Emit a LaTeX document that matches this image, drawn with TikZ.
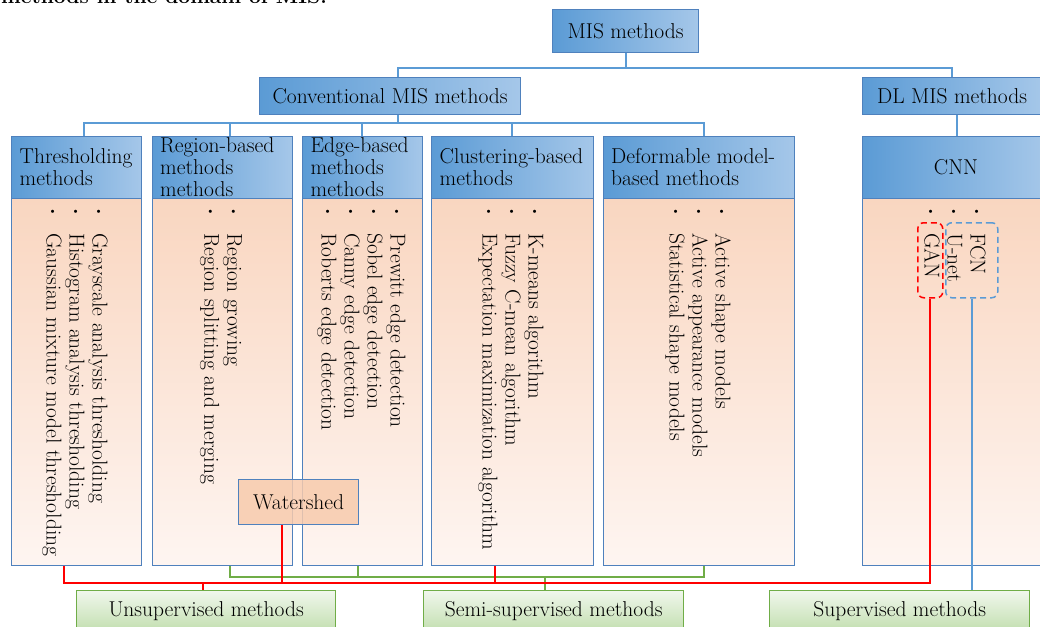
\documentclass[tikz,border=0pt]{standalone}
\usepackage{fontspec}
\setmainfont{Latin Modern Roman}
\definecolor{hdrL}{HTML}{5B9BD5}
\definecolor{hdrR}{HTML}{A5C7E9}
\definecolor{bord}{HTML}{4F81BD}
\definecolor{bodT}{HTML}{F9D6C0}
\definecolor{bodM}{HTML}{F5C4A2}
\definecolor{bodB}{HTML}{FEF5F1}
\definecolor{lnB}{HTML}{5B9BD5}
\definecolor{lnG}{HTML}{70AD47}
\definecolor{grT}{HTML}{F0F7EC}
\definecolor{grB}{HTML}{C3DFB0}
\definecolor{wsF}{HTML}{F8CBAD}
% one bulleted line of a vertical list
\newcommand\itm[1]{\makebox[26pt][l]{\raisebox{3.5pt}{\fontsize{11}{11}\selectfont\textbullet}}#1}
\begin{document}
\begin{tikzpicture}[x=1pt,y=-1pt,
  lbl/.style={font=\fontsize{21.5}{22}\selectfont},
  boxbase/.style={draw=bord, line width=1.2pt, anchor=north west, inner sep=0pt, lbl},
  hdr/.style={boxbase, left color=hdrL, right color=hdrR},
  colbody/.style={boxbase, top color=bodT, middle color=bodM, bottom color=bodB},
  htxt/.style={lbl, anchor=west, align=left, inner sep=0pt},
  lst/.style={rotate=-90, anchor=west, align=left, inner sep=0pt, font=\fontsize{21.5}{23}\selectfont},
  grbox/.style={draw=lnG, line width=1.4pt, anchor=north west, inner sep=0pt, top color=grT, bottom color=grB, lbl},
  bl/.style={draw=lnB, line width=1.8pt},
  rd/.style={draw=red, line width=1.8pt},
  gr/.style={draw=lnG, line width=1.8pt},
  dsh/.style={line width=1.5pt, rounded corners=6pt, dash pattern=on 6pt off 4pt, anchor=north west, inner sep=0pt}
]
\useasboundingbox (0,0) rectangle (1040,626);
\clip (0,0) rectangle (1040,626);
\fill[white] (0,0) rectangle (1040,626);

% caption line running off the top edge
\node[font=\bfseries\fontsize{21}{24}\selectfont, anchor=base west, inner sep=0pt] (ttl) at (1,4) {methods in the domain of MIS.};

% top levels of the tree
\node[hdr, minimum width=146, minimum height=43] (mis) at (552,9) {MIS methods};
\node[hdr, minimum width=261, minimum height=37] (conv) at (259,77) {Conventional MIS methods};
\node[hdr, minimum width=179, minimum height=37] (dl) at (862,77) {DL MIS methods};

% column headers
\node[hdr, minimum width=130, minimum height=62] (th) at (11,136) {};
\node[hdr, minimum width=140, minimum height=62] (rg) at (152,136) {};
\node[hdr, minimum width=120, minimum height=62] (ed) at (302,136) {};
\node[hdr, minimum width=162, minimum height=62] (cl) at (431,136) {};
\node[hdr, minimum width=191, minimum height=62] (df) at (603,136) {};
\node[hdr, minimum width=182, minimum height=62] (cnn) at (862,136) {};

% column bodies
\node[colbody, minimum width=130, minimum height=367] (thb) at (11,198) {};
\node[colbody, minimum width=140, minimum height=367] (rgb) at (152,198) {};
\node[colbody, minimum width=120, minimum height=367] (edb) at (302,198) {};
\node[colbody, minimum width=162, minimum height=367] (clb) at (431,198) {};
\node[colbody, minimum width=191, minimum height=367] (dfb) at (603,198) {};
\node[colbody, minimum width=182, minimum height=367] (cnnb) at (862,198) {};

% header texts
\node[htxt] (tht) at (19.5,167) {Thresholding\\methods};
\node[htxt] (rgt) at (160,167) {Region-based\\methods\\methods};
\node[htxt] (edt) at (310.5,167) {Edge-based\\methods\\methods};
\node[htxt] (clt) at (439.5,167) {Clustering-based\\methods};
\node[htxt] (dft) at (611,167) {Deformable model-\\based methods};
\node[lbl, inner sep=0pt] (cnnt) at (956,167) {CNN};

% bulleted method lists
\node[lst] (thl) at (75,207) {\itm{Grayscale analysis thresholding}\\\itm{Histogram analysis thresholding}\\\itm{Gaussian mixture model thresholding}};
\node[lst] (rgl) at (221,207) {\itm{Region growing}\\\itm{Region splitting and merging}};
\node[lst] (edl) at (361.5,207) {\itm{Prewitt edge detection}\\\itm{Sobel edge detection}\\\itm{Canny edge detection}\\\itm{Roberts edge detection}};
\node[lst] (cll) at (511,207) {\itm{K-means algorithm}\\\itm{Fuzzy C-mean algorithm}\\\itm{Expectation maximization algorithm}};
\node[lst] (dfl) at (698,207) {\itm{Active shape models}\\\itm{Active appearance models}\\\itm{Statistical shape models}};
\node[lst] (cnnl) at (955,207) {\itm{FCN}\\\itm{U-net}\\\itm{GAN}};

% dashed groups inside the CNN column
\node[dsh, draw=red, minimum width=25, minimum height=75] (gan) at (917,222) {};
\node[dsh, draw=lnB, minimum width=52, minimum height=75] (fcn) at (945,222) {};

% learning paradigms
\node[grbox, minimum width=259, minimum height=40] (uns) at (76,590) {Unsupervised methods};
\node[grbox, minimum width=260, minimum height=40] (semi) at (423,590) {Semi-supervised methods};
\node[grbox, minimum width=260, minimum height=40] (sup) at (769,590) {Supervised methods};

% tree connectors
\coordinate (topbus) at (0,68);
\coordinate (cbus) at (0,123);
\draw[bl] (mis.south) -- (mis.south |- topbus);
\draw[bl] ([xshift=7.5]conv.north) |- (dl.north |- topbus) -- (dl.north);
\draw[bl] ([xshift=7.5]conv.south) -- ([xshift=7.5]conv.south |- cbus);
\draw[bl] ([xshift=7]th.north) |- ([xshift=4.5]df.north |- cbus) -- ([xshift=4.5]df.north);
\draw[bl] ([xshift=7]rg.north) -- ([xshift=7]rg.north |- cbus);
\draw[bl] ([xshift=-1]ed.north) -- ([xshift=-1]ed.north |- cbus);
\draw[bl] ([xshift=-1]cl.north) -- ([xshift=-1]cl.north |- cbus);
\draw[bl] ([xshift=3]cnn.north |- dl.south) -- ([xshift=3]cnn.north);

% watershed sits across two columns
\node[boxbase, fill=wsF, fill opacity=0.85, text opacity=1, minimum width=120, minimum height=45] (ws) at (238,479) {Watershed};

% semi-supervised links
\coordinate (gbus) at (0,577);
\draw[gr] ([xshift=7]rgb.south) |- ([xshift=4.5]dfb.south |- gbus) -- ([xshift=4.5]dfb.south);
\draw[gr] ([xshift=-5]edb.south) -- ([xshift=-5]edb.south |- gbus);
\draw[gr] ([xshift=-9]semi.north |- gbus) -- ([xshift=-9]semi.north);

% unsupervised links
\coordinate (rbus) at (0,583);
\draw[rd] ([xshift=-13]thb.south) |- (gan.south |- rbus) -- (gan.south);
\draw[rd] ([xshift=-17]ws.south) -- ([xshift=-17]ws.south |- rbus);
\draw[rd] ([xshift=-18]clb.south) -- ([xshift=-18]clb.south |- rbus);
\draw[rd] ([xshift=-3.5]uns.north |- rbus) -- ([xshift=-3.5]uns.north);

% supervised link
\draw[bl] (fcn.south) -- (fcn.south |- sup.north);
\end{tikzpicture}
\end{document}
